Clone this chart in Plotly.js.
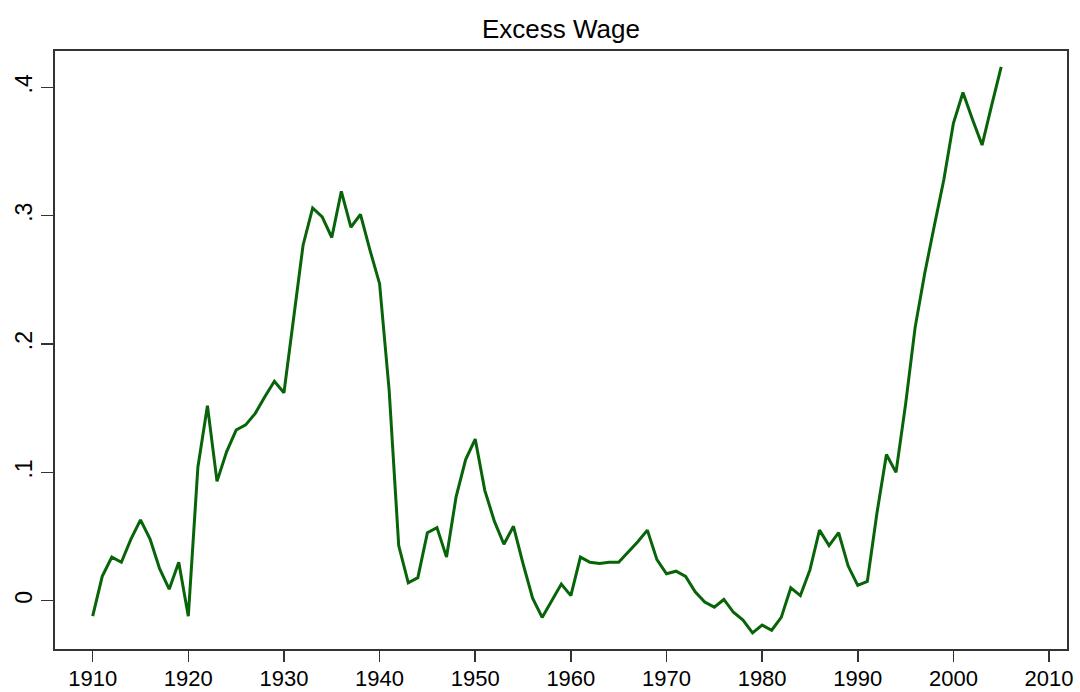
<!DOCTYPE html>
<html>
<head>
<meta charset="utf-8">
<script src="https://cdn.plot.ly/plotly-3.0.1.min.js"></script>
<style>
  html, body { margin: 0; padding: 0; background: #fff; }
  #chart { width: 1080px; height: 692px; }
</style>
</head>
<body>
<div id="chart"></div>
<script>
const years = [
  1910,1911,1912,1913,1914,1915,1916,1917,1918,1919,
  1920,1921,1922,1923,1924,1925,1926,1927,1928,1929,
  1930,1931,1932,1933,1934,1935,1936,1937,1938,1939,
  1940,1941,1942,1943,1944,1945,1946,1947,1948,1949,
  1950,1951,1952,1953,1954,1955,1956,1957,1958,1959,
  1960,1961,1962,1963,1964,1965,1966,1967,1968,1969,
  1970,1971,1972,1973,1974,1975,1976,1977,1978,1979,
  1980,1981,1982,1983,1984,1985,1986,1987,1988,1989,
  1990,1991,1992,1993,1994,1995,1996,1997,1998,1999,
  2000,2001,2002,2003,2004,2005
];
const excessWage = [
  -0.012, 0.019, 0.034, 0.030, 0.048, 0.063, 0.048, 0.025, 0.009, 0.030,
  -0.012, 0.104, 0.152, 0.093, 0.116, 0.133, 0.137, 0.146, 0.159, 0.171,
   0.162, 0.220, 0.277, 0.306, 0.299, 0.283, 0.319, 0.291, 0.301, 0.273,
   0.247, 0.164, 0.043, 0.014, 0.018, 0.053, 0.057, 0.034, 0.081, 0.110,
   0.126, 0.086, 0.062, 0.044, 0.058, 0.029, 0.002,-0.013, 0.000, 0.013,
   0.004, 0.034, 0.030, 0.029, 0.030, 0.030, 0.038, 0.046, 0.055, 0.032,
   0.021, 0.023, 0.019, 0.007,-0.001,-0.005, 0.001,-0.009,-0.015,-0.025,
  -0.019,-0.023,-0.013, 0.010, 0.004, 0.024, 0.055, 0.043, 0.053, 0.027,
   0.012, 0.015, 0.068, 0.114, 0.100, 0.153, 0.213, 0.255, 0.292, 0.328,
   0.372, 0.396, 0.375, 0.355, 0.386, 0.416
];
const xTickVals = [1910,1920,1930,1940,1950,1960,1970,1980,1990,2000,2010];
const yTickVals = [0, 0.1, 0.2, 0.3, 0.4];
const yTickText = ["0", ".1", ".2", ".3", ".4"];
const chartTitle = "Excess Wage";

const trace = {
  x: years,
  y: excessWage,
  type: "scatter",
  mode: "lines",
  line: { color: "#086408", width: 3 },
  hoverinfo: "x+y"
};

const layout = {
  width: 1080,
  height: 692,
  margin: { l: 55, r: 13, t: 51, b: 43 },
  paper_bgcolor: "#ffffff",
  plot_bgcolor: "#ffffff",
  showlegend: false,
  font: { family: "Liberation Sans, Arial, sans-serif", color: "#000" },
  title: {
    text: chartTitle,
    font: { size: 26, color: "#000" },
    x: 0.5, xref: "paper", xanchor: "center",
    y: 1 - 29 / 692, yref: "container", yanchor: "middle"
  },
  xaxis: {
    range: [1906.06, 2011.88],
    tickmode: "array",
    tickvals: xTickVals,
    ticks: "outside",
    ticklen: 11,
    tickwidth: 1.5,
    tickcolor: "#333",
    ticklabelstandoff: -2,
    tickfont: { size: 22, color: "#000" },
    showgrid: false,
    zeroline: false,
    showline: true,
    linecolor: "#333",
    linewidth: 2,
    mirror: true
  },
  yaxis: {
    range: [-0.0376, 0.4283],
    tickmode: "array",
    tickvals: yTickVals,
    ticktext: yTickText,
    tickangle: -90,
    ticks: "outside",
    ticklen: 12,
    tickwidth: 1.5,
    tickcolor: "#333",
    tickfont: { size: 23, color: "#000" },
    showgrid: false,
    zeroline: false,
    showline: true,
    linecolor: "#333",
    linewidth: 2,
    mirror: true
  }
};

Plotly.newPlot("chart", [trace], layout, { displayModeBar: false, staticPlot: true });
</script>
</body>
</html>
